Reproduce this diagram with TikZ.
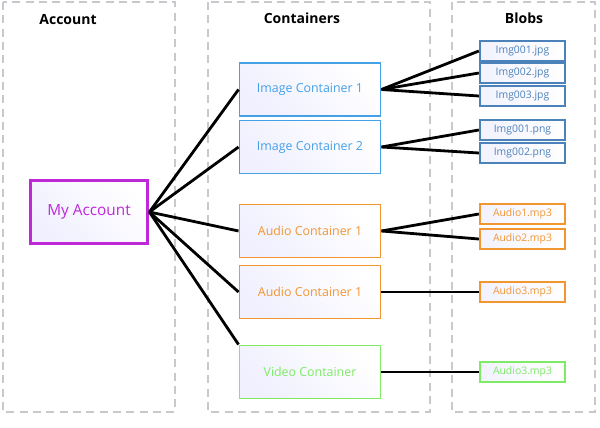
\documentclass[tikz,border=0pt]{standalone}
\usepackage{fontspec}
\setmainfont{Open Sans}
\usetikzlibrary{positioning}
\definecolor{imgblue}{RGB}{70,160,230}
\definecolor{blobblue}{RGB}{75,130,185}
\definecolor{audorange}{RGB}{242,150,50}
\definecolor{vidgreen}{RGB}{125,235,100}
\definecolor{accpurple}{RGB}{190,40,215}
\definecolor{panelgray}{RGB}{200,200,205}
\tikzset{
  panel/.style={draw=panelgray, line width=1.2pt, dash pattern=on 6pt off 4pt},
  head/.style={font=\bfseries\fontsize{10.5}{12}\selectfont},
  box/.style={draw=#1, text=#1, line width=1.2pt, left color=blue!6, right color=white,
    shading angle=135, minimum width=106pt, minimum height=40pt, inner sep=0pt,
    font=\fontsize{9.3}{11}\selectfont},
  blob/.style={draw=#1, text=#1, line width=1.5pt, left color=blue!5, right color=white,
    minimum width=64pt, minimum height=15pt, inner sep=0pt, font=\fontsize{7.8}{9}\selectfont},
  link/.style={line width=2.1pt, black},
}
\begin{document}
\begin{tikzpicture}[x=0.75pt, y=-0.75pt]
  \useasboundingbox (0,0) rectangle (600,428);
  % panels
  \draw[panel] (3,2) rectangle (175,412);
  \draw[panel] (208,2) rectangle (430,412);
  \draw[panel] (452,2) rectangle (595,412);
  \node[head] (hacc) at (68,20) {Account};
  \node[head] (hcon) at (302,18) {Containers};
  \node[head] (hblob) at (524,18) {Blobs};
  % account
  \node[draw=accpurple, text=accpurple, line width=2.6pt, left color=blue!6, right color=white,
    shading angle=135, minimum width=88pt, minimum height=47pt, inner sep=0pt,
    font=\fontsize{11.5}{13}\selectfont] (acc) at (89,212) {My Account};
  % containers
  \node[box=imgblue] (ic1) at (310,89.5) {Image Container 1};
  \node[box=imgblue] (ic2) at (310,147) {Image Container 2};
  \node[box=audorange] (ac1) at (310,231) {Audio Container 1};
  \node[box=audorange] (ac2) at (310,292) {Audio Container 1};
  \node[box=vidgreen] (vc) at (310,372) {Video Container};
  % blobs
  \node[blob=blobblue] (j1) at (522.5,51) {Img001.jpg};
  \node[blob=blobblue] (j2) at (522.5,73) {Img002.jpg};
  \node[blob=blobblue] (j3) at (522.5,96) {Img003.jpg};
  \node[blob=blobblue] (p1) at (522.5,130) {Img001.png};
  \node[blob=blobblue] (p2) at (522.5,153) {Img002.png};
  \node[blob=audorange] (a1) at (522.5,214) {Audio1.mp3};
  \node[blob=audorange] (a2) at (522.5,239) {Audio2.mp3};
  \node[blob=audorange] (a3) at (522.5,292) {Audio3.mp3};
  \node[blob=vidgreen] (v1) at (522.5,372) {Audio3.mp3};
  % links
  \foreach \c in {ic1,ic2,ac1,ac2}
    \draw[link] (acc.east) -- (\c.west);
  \draw[link] (acc.east) -- (vc.north west);
  \foreach \b in {j1,j2,j3}
    \draw[link] (ic1.east) -- (\b.west);
  \foreach \b in {p1,p2}
    \draw[link] (ic2.east) -- (\b.west);
  \foreach \b in {a1,a2}
    \draw[link] (ac1.east) -- (\b.west);
  \draw[link] (ac2.east) -- (a3.west);
  \draw[link] (vc.east) -- (v1.west);
\end{tikzpicture}
\end{document}
